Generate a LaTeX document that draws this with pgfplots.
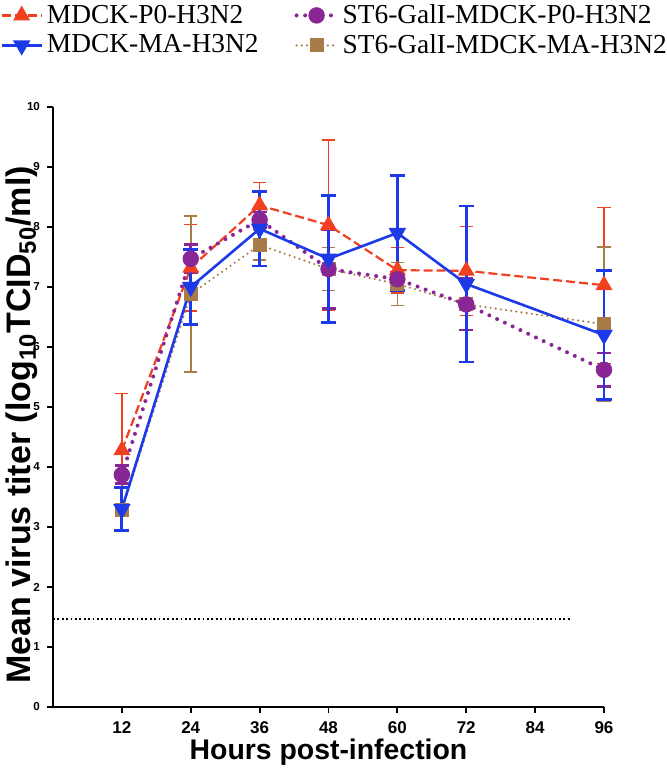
\documentclass[border=0pt]{standalone}
\usepackage{fontspec}
\setmainfont{Liberation Serif}
\newfontfamily\arial{Liberation Sans}
\usepackage{pgfplots}
\pgfplotsset{compat=1.18}
\usepackage{pgfplotstable}

\definecolor{cred}{RGB}{240,64,32}
\definecolor{cblue}{RGB}{28,58,232}
\definecolor{cpurple}{RGB}{136,38,150}
\definecolor{cbrown}{RGB}{168,124,72}

\pgfplotstableread{
x y e
12 4.28 0.95
24 7.32 0.72
36 8.36 0.38
48 8.03 1.42
60 7.28 0.38
72 7.27 0.74
96 7.03 1.30
}\redT
\pgfplotstableread{
x y e
12 3.30 0.36
24 7.00 0.62
36 7.97 0.62
48 7.47 1.06
60 7.90 0.96
72 7.05 1.30
96 6.20 1.07
}\blueT
\pgfplotstableread{
x y e
12 3.87 0.15
24 7.47 0.24
36 8.12 0.13
48 7.30 0.66
60 7.13 0.12
72 6.71 0.43
96 5.62 0.28
}\purpT
\pgfplotstableread{
x y e
12 3.28 0.08
24 6.88 1.30
36 7.70 0.25
48 7.30 0.36
60 7.05 0.36
72 6.71 0.10
96 6.38 1.29
}\brownT

\pgfplotsset{
 redS/.style={cred, line width=1.1pt, dash pattern=on 4.5pt off 2pt, mark=triangle*, mark size=3.8pt, mark options={solid, fill=cred}},
 blueS/.style={cblue, line width=1.3pt, mark=triangle*, mark size=3.8pt, mark options={solid, rotate=180, fill=cblue}},
 purpS/.style={cpurple, line width=2pt, line cap=round, dash pattern=on 0pt off 4.3pt, mark=*, mark size=3.1pt, mark options={solid, fill=cpurple}},
 brownS/.style={cbrown, line width=1.2pt, line cap=round, dash pattern=on 0pt off 2.6pt, mark=square*, mark size=2.9pt, mark options={solid, fill=cbrown}},
}

\begin{document}
\begin{tikzpicture}
\path[use as bounding box] (-26.5pt,-33.5pt) rectangle (306.5pt,353.5pt);
\begin{axis}[
  scale only axis, width=275.5pt, height=300pt,
  xmin=0, xmax=96, ymin=0, ymax=10,
  axis lines=left, axis line style={line width=1.1pt, -, black},
  xtick={12,24,...,96}, ytick={0,1,...,10},
  tick align=outside, major tick length=3pt, tick style={line width=0.9pt, black},
  /pgf/number format/assume math mode=true,
  xticklabel style={font=\arial\bfseries\fontsize{8.5}{10}\selectfont, yshift=-1pt},
  yticklabel style={font=\arial\bfseries\fontsize{5.8}{7}\selectfont},
  xlabel={Hours post-infection},
  xlabel style={font=\arial\bfseries\fontsize{14.2}{16}\selectfont, at={(axis description cs:0.5,-0.075)}, anchor=center},
  ylabel={Mean virus titer (log\textsubscript{10}TCID\textsubscript{50}/ml)},
  ylabel style={font=\arial\bfseries\fontsize{17}{19}\selectfont, at={(axis description cs:-0.0563,0.47)}, anchor=center, rotate=0},
  clip=false,
  legend columns=2,
  legend cell align=left,
  legend style={at={(axis description cs:-0.0962,1.1783)}, anchor=north west, draw=none, fill=none, inner sep=0pt,
    font=\fontsize{13.7}{16}\selectfont,
    /tikz/every even column/.append style={column sep=16pt}},
  legend image code/.code={\draw[mark repeat=2,mark phase=2,#1] plot coordinates {(0pt,0pt)(10pt,0pt)(20pt,0pt)};},
]
\addlegendimage{redS}\addlegendentry{MDCK-P0-H3N2}
\addlegendimage{purpS}\addlegendentry{ST6-GalI-MDCK-P0-H3N2}
\addlegendimage{blueS}\addlegendentry{MDCK-MA-H3N2}
\addlegendimage{brownS}\addlegendentry{ST6-GalI-MDCK-MA-H3N2}

\addplot[black, line width=0.9pt, dash pattern=on 0.9pt off 1.3pt, forget plot] coordinates {(0,1.46) (90,1.46)};

\addplot[redS, forget plot, error bars/.cd, y dir=both, y explicit,
  error bar style={solid, line width=0.65pt, line cap=butt},
  error mark options={rotate=90, solid, line width=0.65pt, mark size=3.3pt, cred}]
  table[x=x, y=y, y error=e] {\redT};
\addplot[brownS, forget plot, error bars/.cd, y dir=both, y explicit,
  error bar style={solid, line width=0.75pt, line cap=butt},
  error mark options={rotate=90, solid, line width=0.75pt, mark size=3.3pt, cbrown}]
  table[x=x, y=y, y error=e] {\brownT};
\addplot[purpS, forget plot, error bars/.cd, y dir=both, y explicit,
  error bar style={solid, line width=1.3pt, line cap=butt},
  error mark options={rotate=90, solid, line width=1.3pt, mark size=3.5pt, cpurple}]
  table[x=x, y=y, y error=e] {\purpT};
\addplot[blueS, forget plot, error bars/.cd, y dir=both, y explicit,
  error bar style={solid, line width=1.4pt, line cap=butt},
  error mark options={rotate=90, solid, line width=1.4pt, mark size=3.8pt, cblue}]
  table[x=x, y=y, y error=e] {\blueT};
\end{axis}
\end{tikzpicture}
\end{document}
